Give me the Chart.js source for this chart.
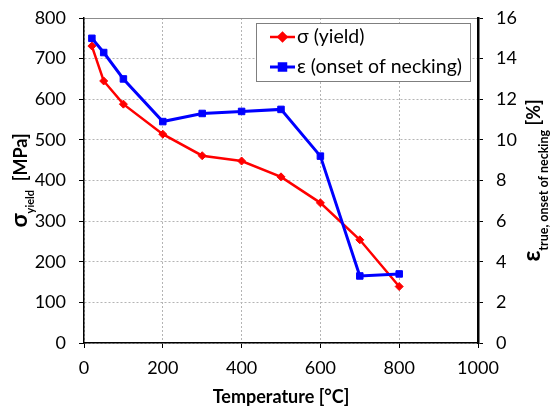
<!DOCTYPE html>
<html>
<head>
<meta charset="utf-8">
<script src="https://cdn.jsdelivr.net/npm/chart.js@4/dist/chart.umd.min.js"></script>
<style>
  html, body { margin: 0; padding: 0; background: #fff; }
  canvas { display: block; }
</style>
</head>
<body>
<canvas id="chart" width="551" height="410"></canvas>
<script>
// Temperature steps [°C]
const temperatures = [20, 50, 100, 200, 300, 400, 500, 600, 700, 800];
// Yield stress [MPa]
const yieldStress = [731, 645, 588, 514, 461, 448, 409, 345, 254, 139];
// True strain at onset of necking [%]
const neckingStrain = [15.0, 14.3, 13.0, 10.9, 11.3, 11.4, 11.5, 9.2, 3.3, 3.4];

const seriesLabels = ['σ (yield)', 'ε (onset of necking)'];
const xTitle = 'Temperature [°C]';
const leftTitle = [
  { text: 'σ', size: 23 },
  { text: 'yield', size: 11, sub: true },
  { text: '  [MPa]', size: 18 }
];
const rightTitle = [
  { text: 'ε', size: 24 },
  { text: 'true, onset of necking', size: 12.5, sub: true },
  { text: ' [%]', size: 18 }
];

const FONT = 'Lato, "Open Sans", sans-serif';
const RED = '#ff0000';
const BLUE = '#0000ff';
const GRID = '#b4b4b4';

const toPoints = (ys) => temperatures.map((t, i) => ({ x: t, y: ys[i] }));

// Rotated axis titles with subscripts
function drawRotatedTitle(ctx, parts, baseX, centerY, subShift) {
  ctx.save();
  let total = 0;
  parts.forEach(p => {
    ctx.font = `bold ${p.size}px ${FONT}`;
    p.w = ctx.measureText(p.text).width;
    total += p.w;
  });
  ctx.translate(baseX, centerY);
  ctx.rotate(-Math.PI / 2);
  ctx.fillStyle = '#000';
  ctx.textBaseline = 'alphabetic';
  ctx.textAlign = 'left';
  let x = -total / 2;
  parts.forEach(p => {
    ctx.font = `bold ${p.size}px ${FONT}`;
    ctx.fillText(p.text, x, p.sub ? subShift : 0);
    x += p.w;
  });
  ctx.restore();
}

const titlesPlugin = {
  id: 'axisTitles',
  afterDraw(chart) {
    const { ctx, chartArea } = chart;
    const cy = (chartArea.top + chartArea.bottom) / 2;
    const cx = (chartArea.left + chartArea.right) / 2;
    drawRotatedTitle(ctx, leftTitle, 27, cy, 7);
    drawRotatedTitle(ctx, rightTitle, 540, cy, 8);
    ctx.save();
    ctx.font = `bold 18px ${FONT}`;
    ctx.fillStyle = '#000';
    ctx.textAlign = 'center';
    ctx.textBaseline = 'middle';
    ctx.fillText(xTitle, cx, 397);
    ctx.restore();
  }
};

// Boxed legend in the upper right of the plot
const legendPlugin = {
  id: 'boxLegend',
  afterDraw(chart) {
    const { ctx } = chart;
    const bx = 256, by = 23, bw = 214, bh = 58;
    ctx.save();
    ctx.fillStyle = '#fff';
    ctx.fillRect(bx, by, bw, bh);
    ctx.strokeStyle = '#7f7f7f';
    ctx.lineWidth = 1;
    ctx.strokeRect(bx + 0.5, by + 0.5, bw, bh);
    chart.data.datasets.forEach((ds, i) => {
      const y = by + 14 + i * 30;
      ctx.strokeStyle = ds.borderColor;
      ctx.lineWidth = ds.borderWidth;
      ctx.beginPath();
      ctx.moveTo(270, y);
      ctx.lineTo(295, y);
      ctx.stroke();
      Chart.helpers.drawPoint(ctx, {
        pointStyle: ds.pointStyle,
        radius: ds.pointRadius,
        borderWidth: 1,
        rotation: 0
      }, 282.5, y);
      ctx.fillStyle = ds.borderColor;
      ctx.fill();
      ctx.fillStyle = '#000';
      ctx.font = `19.5px ${FONT}`;
      ctx.textBaseline = 'middle';
      ctx.textAlign = 'left';
      ctx.fillText(ds.label, 297, y);
    });
    ctx.restore();
  }
};

const tickFont = { family: FONT, size: 18 };
const plainTick = (v) => String(v);

// Fixed axis sizes so the plot area sits at a set place
function fixVertical(width) {
  return (s) => { s.width = width; s.paddingTop = 0; s.paddingBottom = 0; };
}

new Chart(document.getElementById('chart'), {
  type: 'line',
  data: {
    datasets: [
      {
        label: seriesLabels[0],
        data: toPoints(yieldStress),
        yAxisID: 'y',
        borderColor: RED,
        backgroundColor: RED,
        borderWidth: 2.5,
        pointStyle: 'rectRot',
        pointRadius: 4,
        pointBorderWidth: 1,
        order: 1
      },
      {
        label: seriesLabels[1],
        data: toPoints(neckingStrain),
        yAxisID: 'y2',
        borderColor: BLUE,
        backgroundColor: BLUE,
        borderWidth: 3,
        pointStyle: 'rect',
        pointRadius: 4.6,
        pointBorderWidth: 1,
        order: 0
      }
    ]
  },
  options: {
    responsive: false,
    animation: false,
    devicePixelRatio: 1,
    layout: { padding: { top: 18, left: 0, right: 0, bottom: 0 } },
    plugins: { legend: { display: false }, tooltip: { enabled: false } },
    elements: { line: { tension: 0 } },
    scales: {
      x: {
        type: 'linear',
        min: 0,
        max: 1000,
        ticks: { stepSize: 200, color: '#000', font: tickFont, padding: 9, maxRotation: 0, callback: plainTick },
        grid: { color: GRID, tickColor: '#000', tickLength: 5, lineWidth: 1 },
        border: { color: '#000', width: 1.5, dash: [2, 2] },
        afterFit(s) { s.height = 67; s.paddingLeft = 0; s.paddingRight = 0; }
      },
      y: {
        position: 'left',
        min: 0,
        max: 800,
        ticks: { stepSize: 100, color: '#000', font: tickFont, padding: 13, callback: plainTick },
        grid: {
          color: (c) => (c.tick && c.tick.value === 800 ? '#8c8c8c' : GRID),
          tickColor: '#000',
          tickLength: 5,
          lineWidth: 1
        },
        border: {
          color: '#000',
          width: 1.5,
          dash: (c) => (c.tick && c.tick.value === 800 ? [] : [2, 2])
        },
        afterFit: fixVertical(84)
      },
      y2: {
        position: 'right',
        min: 0,
        max: 16,
        ticks: { stepSize: 2, color: '#000', font: tickFont, padding: 13, callback: plainTick },
        grid: { drawOnChartArea: false, tickColor: '#000', tickLength: 5 },
        border: { color: '#000', width: 2.5 },
        afterFit: fixVertical(73)
      }
    }
  },
  plugins: [titlesPlugin, legendPlugin]
});
</script>
</body>
</html>
